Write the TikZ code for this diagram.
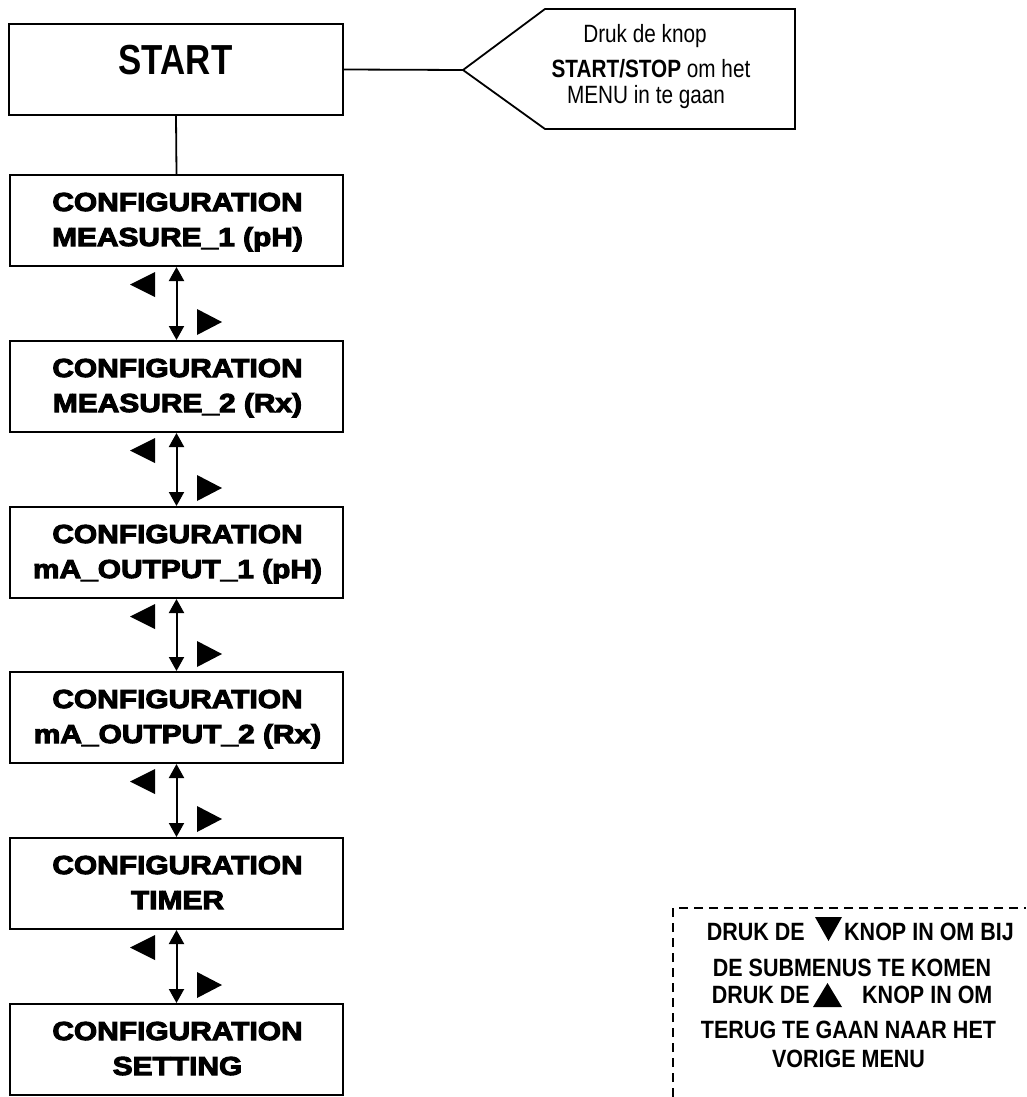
\documentclass[tikz,border=0pt]{standalone}
\usepackage{fontspec}
\setmainfont{Liberation Sans}
\newfontfamily\narrowsans[FakeStretch=0.83]{Liberation Sans}
\newfontfamily\notesans[FakeStretch=0.86]{Liberation Sans}
\newfontfamily\heavysans[FakeStretch=1.15,FakeBold=4]{Liberation Sans Bold}
\usetikzlibrary{arrows.meta}

\begin{document}
\begin{tikzpicture}[x=1pt,y=-1pt,
  box/.style={draw,line width=2pt,minimum width=333pt,minimum height=91pt,inner sep=0pt},
  heavy/.style={inner sep=0pt,anchor=base,font=\heavysans\fontsize{26}{30}\selectfont},
  calltext/.style={inner sep=0pt,anchor=base,font=\narrowsans\fontsize{25}{30}\selectfont},
  notetext/.style={inner sep=0pt,font=\notesans\bfseries\fontsize{25}{30}\selectfont},
  twoway/.style={line width=2pt,{Triangle[length=14pt,width=15pt]}-{Triangle[length=14pt,width=15pt]}},
  link/.style={line width=1.8pt}]
\useasboundingbox (0,0) rectangle (1026,1097);

% START box and its hint callout
\node[box,minimum width=334pt] (start) at (176,69.5) {};
\node[inner sep=0pt,anchor=base,font=\narrowsans\bfseries\fontsize{42}{48}\selectfont] (starttxt) at (175.5,75) {START};

\coordinate (tip) at (463,70);
\draw[line width=1.8pt,line join=miter] (tip) -- (545,9) -- (795,9) -- (795,129) -- (545,129) -- cycle;
\node[calltext] (hint1) at (645,43) {Druk de knop};
\node[calltext] (hint2) at (651,78) {\textbf{START/STOP} om het};
\node[calltext] (hint3) at (646,104) {MENU in te gaan};
\draw[link] (start.east) -- (tip);

% menu boxes
\node[box] (c1) at (176.5,220.5) {};
\node[box] (c2) at (176.5,386.5) {};
\node[box] (c3) at (176.5,552.5) {};
\node[box] (c4) at (176.5,717.5) {};
\node[box] (c5) at (176.5,883.5) {};
\node[box] (c6) at (176.5,1049.5) {};

\node[heavy] (c1a) at (177.5,211) {CONFIGURATION};
\node[heavy] (c1b) at (177.5,246) {MEASURE\_1 (pH)};
\node[heavy] (c2a) at (177.5,377) {CONFIGURATION};
\node[heavy] (c2b) at (177.5,412) {MEASURE\_2 (Rx)};
\node[heavy] (c3a) at (177.5,543) {CONFIGURATION};
\node[heavy] (c3b) at (177.5,578) {mA\_OUTPUT\_1 (pH)};
\node[heavy] (c4a) at (177.5,708) {CONFIGURATION};
\node[heavy] (c4b) at (177.5,743) {mA\_OUTPUT\_2 (Rx)};
\node[heavy] (c5a) at (177.5,874) {CONFIGURATION};
\node[heavy] (c5b) at (177.5,909) {TIMER};
\node[heavy] (c6a) at (177.5,1040) {CONFIGURATION};
\node[heavy] (c6b) at (177.5,1075) {SETTING};

\draw[link] (start.south) -- (c1.north);

% two-way links with the left/right key marks
\foreach \i/\b in {1/266,2/432,3/598,4/763,5/929}{
  \pgfmathtruncatemacro\j{\i+1}
  \draw[twoway] (c\i.south) -- (c\j.north);
  \fill (130,\b+18.5) -- (155,\b+6) -- (155,\b+31) -- cycle;
  \fill (222,\b+56) -- (197,\b+43) -- (197,\b+69) -- cycle;
}

% dashed note about the up/down keys
\draw[line width=1.5pt,dash pattern=on 9pt off 6pt] (673,1097) -- (673,908) -- (1026,908);
\node[notetext,anchor=base east] (n1a) at (805,940) {DRUK DE};
\fill (815,917) -- (842,917) -- (828.5,941) -- cycle;
\node[notetext,anchor=base west] (n1b) at (844,940) {KNOP IN OM BIJ};
\node[notetext,anchor=base] (n2) at (852,976) {DE SUBMENUS TE KOMEN};
\node[notetext,anchor=base east] (n3a) at (810,1003) {DRUK DE};
\fill (813,1007) -- (842,1007) -- (827.5,983) -- cycle;
\node[notetext,anchor=base west] (n3b) at (862,1003) {KNOP IN OM};
\node[notetext,anchor=base] (n4) at (848.5,1038) {TERUG TE GAAN NAAR HET};
\node[notetext,anchor=base] (n5) at (848.5,1067) {VORIGE MENU};
\end{tikzpicture}
\end{document}
